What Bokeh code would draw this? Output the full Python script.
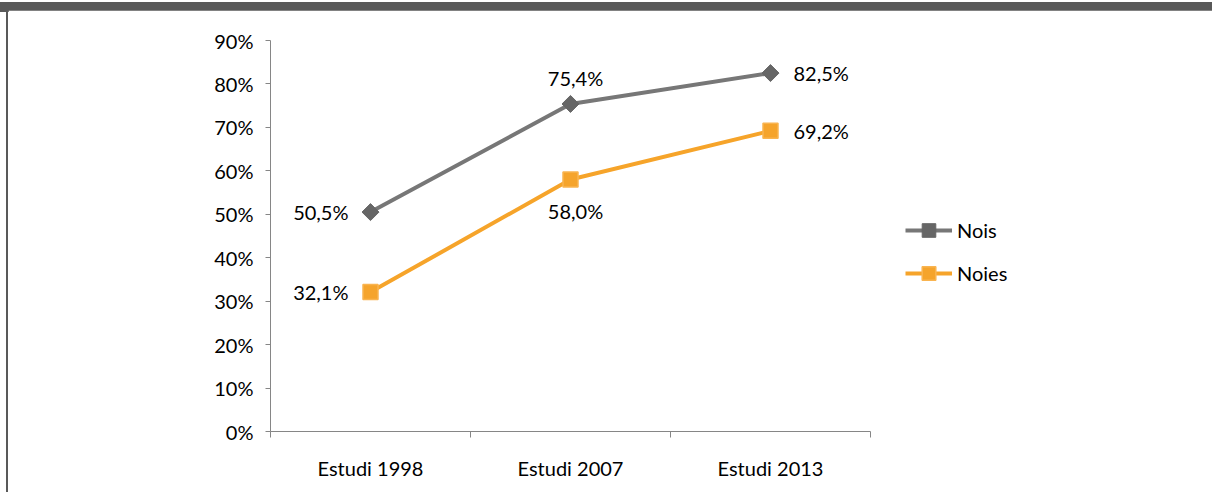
import math
from bokeh.plotting import figure
from bokeh.models import (Range1d, FixedTicker, NumeralTickFormatter, Legend, LegendItem,
                          ColumnDataSource, Div)
from bokeh.layouts import column, row
from bokeh.core.properties import value
from bokeh.embed import file_html
from bokeh.resources import INLINE

# ---- data ----
categories = ["Estudi 1998", "Estudi 2007", "Estudi 2013"]
nois = [50.5, 75.4, 82.5]
noies = [32.1, 58.0, 69.2]
y_ticks = [0, 10, 20, 30, 40, 50, 60, 70, 80, 90]

# label placement (style only)
nois_lbl_align = ["right", "center", "left"]
nois_lbl_dx = [-22, 5, 23]
nois_lbl_dy = [0, -26, 0]
noies_lbl_align = ["right", "center", "left"]
noies_lbl_dx = [-22, 5, 23]
noies_lbl_dy = [0, 31, 0]

FONT = "Lato"
FS = "20px"

xs = [i + 0.5 for i in range(len(categories))]

def fmt(v):
    return f"{v:.1f}".replace(".", ",") + "%"

p = figure(frame_width=600, frame_height=391,
           min_border_left=262, min_border_right=342,
           min_border_top=30, min_border_bottom=61,
           x_range=Range1d(0, len(categories)), y_range=Range1d(0, 0.9),
           output_backend="svg", toolbar_location=None,
           background_fill_color="white", border_fill_color="white")
p.outline_line_color = None
p.xgrid.visible = False
p.ygrid.visible = False

# y axis
p.yaxis.ticker = FixedTicker(ticks=[t / 100 for t in y_ticks], minor_ticks=[])
p.yaxis.formatter = NumeralTickFormatter(format="0%")
p.yaxis.axis_line_color = "#868686"
p.yaxis.major_tick_line_color = "#868686"
p.yaxis.major_tick_out = 5
p.yaxis.major_tick_in = 0
p.yaxis.major_label_standoff = 12
p.yaxis.major_label_text_font = FONT
p.yaxis.major_label_text_font_size = FS
p.yaxis.major_label_text_color = "#000000"

# x axis
p.xaxis.ticker = FixedTicker(ticks=xs, minor_ticks=list(range(len(categories) + 1)))
p.xaxis.major_label_overrides = {x: c for x, c in zip(xs, categories)}
p.xaxis.axis_line_color = "#868686"
p.xaxis.major_tick_out = 0
p.xaxis.major_tick_in = 0
p.xaxis.minor_tick_line_color = "#868686"
p.xaxis.minor_tick_out = 6
p.xaxis.minor_tick_in = 0
p.xaxis.major_label_standoff = 18
p.xaxis.major_label_text_font = FONT
p.xaxis.major_label_text_font_size = FS
p.xaxis.major_label_text_color = "#000000"

src_nois = ColumnDataSource(dict(x=xs, y=[v / 100 for v in nois], t=[fmt(v) for v in nois],
                                 a=nois_lbl_align, dx=nois_lbl_dx, dy=nois_lbl_dy))
src_noies = ColumnDataSource(dict(x=xs, y=[v / 100 for v in noies], t=[fmt(v) for v in noies],
                                  a=noies_lbl_align, dx=noies_lbl_dx, dy=noies_lbl_dy))

GRAY_LINE = "#777777"
GRAY_MK = "#666666"
OR_LINE = "#F6A42A"
OR_MK = "#F5A42C"

l1 = p.line("x", "y", source=src_nois, line_color=GRAY_LINE, line_width=4)
s1 = p.scatter("x", "y", source=src_nois, marker="square", size=12, angle=math.pi / 4,
               fill_color=GRAY_MK, line_color=GRAY_MK, line_width=1)
l2 = p.line("x", "y", source=src_noies, line_color=OR_LINE, line_width=4)
s2 = p.scatter("x", "y", source=src_noies, marker="square", size=15,
               fill_color=OR_MK, line_color="#F9B450", line_width=1.5)

for src in (src_nois, src_noies):
    p.text("x", "y", text="t", source=src, text_align="a", text_baseline="middle",
           x_offset="dx", y_offset="dy", text_font=value(FONT), text_font_size=FS,
           text_color="#000000")

legend = Legend(items=[LegendItem(label="Nois", renderers=[l1, s1]),
                       LegendItem(label="Noies", renderers=[l2, s2])],
                location=(35, 141), orientation="vertical",
                glyph_width=47, glyph_height=34, label_height=34,
                label_standoff=5, spacing=9, padding=0, margin=0,
                border_line_color=None, background_fill_alpha=0,
                label_text_font=FONT, label_text_font_size=FS,
                label_text_color="#000000")
p.add_layout(legend, "right")

band = Div(text='<div style="background:#595959;width:1212px;height:10px"></div>',
           width=1212, height=10, margin=0)
gap = Div(text='<div style="width:6px;height:482px"></div>', width=6, height=482, margin=0)
edge = Div(text='<div style="background:#595959;width:2px;height:482px"></div>',
           width=2, height=482, margin=0)
layout = column(band, row(gap, edge, p, margin=0), margin=0)

open("out.html", "w").write(file_html(layout, INLINE))
